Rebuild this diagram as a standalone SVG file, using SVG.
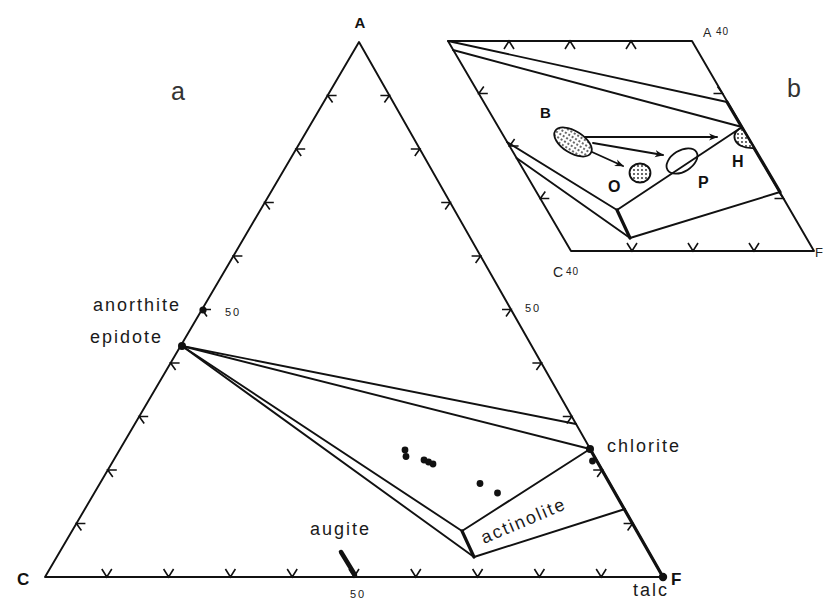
<svg xmlns="http://www.w3.org/2000/svg" width="826" height="601" viewBox="0 0 826 601">
<defs>
<style>
.ln{fill:none;stroke:#111;stroke-width:1.9;stroke-linejoin:round;stroke-linecap:round}
.thk{fill:none;stroke:#111;stroke-width:3.2;stroke-linecap:round}
.tk{fill:none;stroke:#111;stroke-width:1.6;stroke-linejoin:miter}
.lab{font-family:"Liberation Sans",Arial,sans-serif;font-size:18px;letter-spacing:2px;fill:#1a1a1a}
.num{font-family:"Liberation Sans",Arial,sans-serif;font-size:11px;letter-spacing:2px;fill:#1a1a1a}
.bold{font-family:"Liberation Sans",Arial,sans-serif;font-weight:bold;fill:#111}
.big{font-family:"Liberation Sans",Arial,sans-serif;font-size:25px;fill:#333}
.dot{fill:#111}
</style>
<pattern id="stip" width="4" height="4" patternUnits="userSpaceOnUse">
<rect width="4" height="4" fill="#fff"/>
<circle cx="2" cy="2" r="0.9" fill="#222"/>
</pattern>
<marker id="arr" viewBox="0 0 10 10" refX="9" refY="5" markerWidth="9" markerHeight="9" markerUnits="userSpaceOnUse" orient="auto">
<path d="M0,1 L10,5 L0,9 L3,5 Z" fill="#111"/>
</marker>
</defs>
<rect width="826" height="601" fill="#fff"/>

<!-- Main triangle a -->
<g id="triangle-a">
<path class="ln" d="M45,577 L359,42 L663,577 Z"/>
<path class="thk" d="M590,449 L663,577"/>
<path class="tk" d="M101.8,569 L106.8,577 L111.8,569 M163.6,569 L168.6,577 L173.6,569 M225.4,569 L230.4,577 L235.4,569 M287.2,569 L292.2,577 L297.2,569 M349,569 L354,577 L359,569 M410.8,569 L415.8,577 L420.8,569 M472.6,569 L477.6,577 L482.6,569 M534.4,569 L539.4,577 L544.4,569 M596.2,569 L601.2,577 L606.2,569"/>
<path class="tk" d="M85.4,523.5 L76.4,523.5 L81.4,530.5 M116.8,470 L107.8,470 L112.8,477 M148.2,416.5 L139.2,416.5 L144.2,423.5 M179.6,363 L170.6,363 L175.6,370 M211,309.5 L202,309.5 L207,316.5 M242.4,256 L233.4,256 L238.4,263 M273.8,202.5 L264.8,202.5 L269.8,209.5 M305.2,149 L296.2,149 L301.2,156 M336.6,95.5 L327.6,95.5 L332.6,102.5"/>
<path class="tk" d="M380.4,95.5 L389.4,95.5 L384.4,102.5 M410.8,149 L419.8,149 L414.8,156 M441.2,202.5 L450.2,202.5 L445.2,209.5 M471.6,256 L480.6,256 L475.6,263 M502,309.5 L511,309.5 L506,316.5 M532.4,363 L541.4,363 L536.4,370 M562.8,416.5 L571.8,416.5 L566.8,423.5 M593.2,470 L602.2,470 L597.2,477 M623.6,523.5 L632.6,523.5 L627.6,530.5"/>
</g>

<g id="connectors-a">
<path class="ln" d="M182,346 L576,424"/>
<path class="ln" d="M182,346 L590,449"/>
<path class="ln" d="M182,346 L462,531"/>
<path class="ln" d="M182,346 L474,557"/>
<path class="ln" d="M590,449 L462,531"/>
<path class="thk" d="M462,531 L474,557"/>
<path class="ln" d="M474,557 L625,509"/>
<path d="M341,552 L355,575" stroke="#111" stroke-width="4.5" stroke-linecap="round" fill="none"/>
</g>

<g id="data-points">
<circle class="dot" cx="405" cy="450" r="3.4"/>
<circle class="dot" cx="406" cy="456.5" r="3.4"/>
<circle class="dot" cx="424" cy="460" r="3.4"/>
<circle class="dot" cx="428.5" cy="462" r="3.4"/>
<circle class="dot" cx="433" cy="464" r="3.4"/>
<circle class="dot" cx="480" cy="483.5" r="3.4"/>
<circle class="dot" cx="497.5" cy="493" r="3.4"/>
<circle class="dot" cx="592.5" cy="461" r="3.4"/>
</g>

<g id="node-anorthite">
<circle class="dot" cx="203" cy="310" r="3.6"/>
<text class="lab" x="93" y="311">anorthite</text>
</g>
<g id="node-epidote">
<circle class="dot" cx="182" cy="346" r="4"/>
<text class="lab" x="90" y="343">epidote</text>
</g>
<g id="node-chlorite">
<circle class="dot" cx="590" cy="449" r="4"/>
<text class="lab" x="607" y="452">chlorite</text>
</g>
<g id="node-talc">
<circle class="dot" cx="663" cy="577" r="4.2"/>
<text class="lab" x="633" y="596">talc</text>
</g>
<g id="node-augite">
<text class="lab" x="310" y="535">augite</text>
</g>
<g id="node-actinolite">
<text class="lab" transform="translate(484,544) rotate(-23)">actinolite</text>
</g>

<g id="labels-a">
<text class="bold" x="360" y="28" font-size="15" text-anchor="middle">A</text>
<text class="bold" x="17" y="585" font-size="17">C</text>
<text class="bold" x="671" y="585" font-size="17">F</text>
<text class="num" x="225" y="316">50</text>
<text class="num" x="525" y="312">50</text>
<text class="num" x="350" y="598">50</text>
<text class="big" x="171" y="100">a</text>
</g>

<!-- Inset b -->
<g id="inset-b">
<path class="ln" d="M448,41 L692,41 L814,251 L571,251 Z"/>
<path class="thk" d="M727,102 L780,192"/>
<path class="tk" d="M504,49 L509,41 L514,49 M565,49 L570,41 L575,49 M626,49 L631,41 L636,49"/>
<path class="tk" d="M627,243 L632,251 L637,243 M688,243 L693,251 L698,243 M749,243 L754,251 L759,243"/>
<path class="tk" d="M487.8,93.5 L478.8,93.5 L483.8,86.5 M518.6,146 L509.6,146 L514.6,139 M549.3,198.5 L540.3,198.5 L545.3,191.5"/>
<path class="tk" d="M713.5,93.5 L722.5,93.5 L717.5,86.5 M774.5,198.5 L783.5,198.5 L778.5,191.5"/>
</g>

<g id="connectors-b">
<path class="ln" d="M448,41 L727,102"/>
<path class="ln" d="M453,50 L742,127"/>
<path class="ln" d="M742,127 L617,210"/>
<path class="thk" d="M617,210 L630,238"/>
<path class="ln" d="M630,238 L780,192"/>
<path class="ln" d="M507,142 L617,210"/>
<path class="ln" d="M516.5,158 L630,238"/>
<path class="ln" d="M585,137 L717,137" marker-end="url(#arr)"/>
<path class="ln" d="M593,143 L663,155" marker-end="url(#arr)"/>
<path class="ln" d="M592,152 L623,166" marker-end="url(#arr)"/>
</g>

<g id="node-B">
<ellipse cx="573" cy="142" rx="21" ry="11" transform="rotate(32 573 142)" fill="url(#stip)" stroke="#111" stroke-width="1.8"/>
<text class="bold" x="540" y="118" font-size="15">B</text>
</g>
<g id="node-O">
<ellipse cx="640" cy="173" rx="10.5" ry="9.5" fill="url(#stip)" stroke="#111" stroke-width="1.8"/>
<text class="bold" x="608" y="192" font-size="16">O</text>
</g>
<g id="node-P">
<ellipse cx="682" cy="161" rx="17" ry="10.5" transform="rotate(-32 682 161)" fill="none" stroke="#111" stroke-width="1.8"/>
<text class="bold" x="698" y="188" font-size="16">P</text>
</g>
<g id="node-H">
<path d="M742,128 C730,131 731,149 754,148 Z" fill="url(#stip)" stroke="#111" stroke-width="1.8" stroke-linejoin="round"/>
<text class="bold" x="732" y="167" font-size="16">H</text>
</g>

<g id="labels-b">
<text font-family="Liberation Sans,Arial,sans-serif" fill="#222" x="703" y="37" font-size="12.5">A</text>
<text font-family="Liberation Sans,Arial,sans-serif" fill="#222" x="716" y="35" font-size="10" letter-spacing="1">40</text>
<text font-family="Liberation Sans,Arial,sans-serif" fill="#222" x="553" y="277" font-size="14">C</text>
<text font-family="Liberation Sans,Arial,sans-serif" fill="#222" x="566" y="275" font-size="10" letter-spacing="1">40</text>
<text font-family="Liberation Sans,Arial,sans-serif" fill="#222" x="815" y="257" font-size="13">F</text>
<text class="big" x="787" y="97">b</text>
</g>
</svg>
